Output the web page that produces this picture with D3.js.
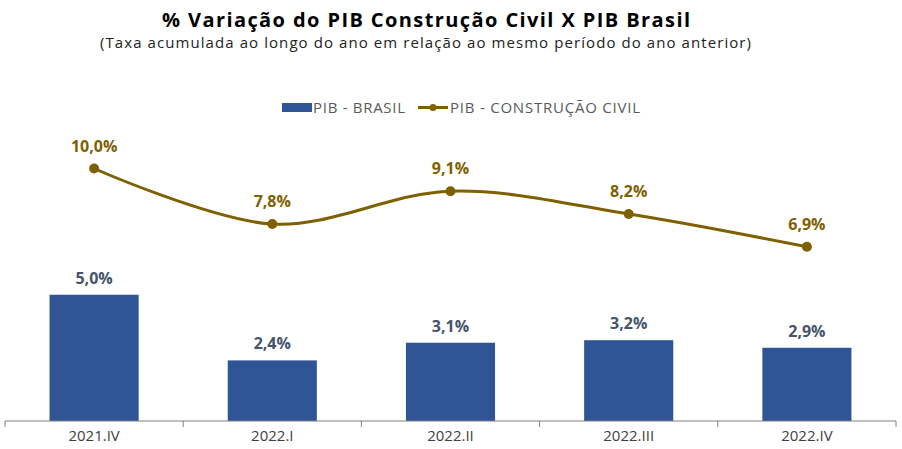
<!DOCTYPE html>
<html>
<head>
<meta charset="utf-8">
<script src="https://cdn.jsdelivr.net/npm/d3@7"></script>
<style>
  body { margin: 0; background: #fff; }
  svg { font-family: "Open Sans", "Noto Sans", sans-serif; }
</style>
</head>
<body>
<div id="chart"></div>
<script>
const categories = ["2021.IV", "2022.I", "2022.II", "2022.III", "2022.IV"];
const pibBrasil = [5.0, 2.4, 3.1, 3.2, 2.9];
const pibConstrucao = [10.0, 7.8, 9.1, 8.2, 6.9];

const W = 902, H = 449;
const margin = { top: 0, right: 6, bottom: 28, left: 5 };

const svg = d3.select("#chart").append("svg")
    .attr("width", W)
    .attr("height", H);

const fmt = v => v.toFixed(1).replace(".", ",") + "%";

// Scales
const x = d3.scaleBand()
    .domain(categories)
    .range([margin.left, W - margin.right])
    .paddingInner(0.5)
    .paddingOuter(0.25);

const y = d3.scaleLinear()
    .domain([0, 10])
    .range([H - margin.bottom, H - margin.bottom - 252.5]);

// Title (stretched to the width of the original wider font)
svg.append("text")
    .attr("x", 162).attr("y", 27)
    .attr("font-size", 20).attr("font-weight", 700)
    .attr("fill", "#000")
    .attr("textLength", 528).attr("lengthAdjust", "spacing")
    .text("% Variação do PIB Construção Civil X PIB Brasil");

svg.append("text")
    .attr("x", 100).attr("y", 48)
    .attr("font-size", 15)
    .attr("fill", "#222")
    .attr("textLength", 651).attr("lengthAdjust", "spacing")
    .text("(Taxa acumulada ao longo do ano em relação ao mesmo período do ano anterior)");

// Legend
const leg = svg.append("g").attr("font-size", 15);
leg.append("rect").attr("x", 282).attr("y", 103).attr("width", 30).attr("height", 9).attr("fill", "#2F5597");
leg.append("text").attr("x", 313).attr("y", 113).attr("fill", "#595959")
    .attr("textLength", 92).attr("lengthAdjust", "spacing").text("PIB - BRASIL");
leg.append("line").attr("x1", 418).attr("x2", 448).attr("y1", 107.5).attr("y2", 107.5)
    .attr("stroke", "#7F6000").attr("stroke-width", 3);
leg.append("circle").attr("cx", 433).attr("cy", 107.5).attr("r", 3.5).attr("fill", "#7F6000");
leg.append("text").attr("x", 450).attr("y", 113).attr("fill", "#595959")
    .attr("textLength", 190).attr("lengthAdjust", "spacing").text("PIB - CONSTRUÇÃO CIVIL");

// Bars
svg.selectAll(".bar")
    .data(pibBrasil)
    .enter()
    .append("rect")
    .attr("class", "bar")
    .attr("x", (d, i) => x(categories[i]))
    .attr("y", d => y(d))
    .attr("width", x.bandwidth())
    .attr("height", d => y(0) - y(d))
    .attr("fill", "#2F5597");

svg.selectAll(".bar-label")
    .data(pibBrasil)
    .enter()
    .append("text")
    .attr("class", "bar-label")
    .attr("x", (d, i) => x(categories[i]) + x.bandwidth() / 2)
    .attr("y", d => y(d) - 11)
    .attr("text-anchor", "middle")
    .attr("font-size", 16).attr("font-weight", 700)
    .attr("fill", "#44546A")
    .text(fmt);

// X axis
const axis = svg.append("g")
    .attr("transform", `translate(0, ${y(0)})`)
    .call(d3.axisBottom(x).tickSize(0).tickPadding(9));
axis.select(".domain").attr("stroke", "#7f7f7f").attr("d", `M${margin.left},0H${W - margin.right}`);
axis.selectAll("text").attr("font-size", 15).attr("fill", "#404040")
    .attr("font-family", "\"Open Sans\", \"Noto Sans\", sans-serif");

// Tick marks between categories
const bounds = d3.range(categories.length + 1).map(i => margin.left + i * (W - margin.left - margin.right) / categories.length);
axis.selectAll(".sep")
    .data(bounds)
    .enter()
    .append("line")
    .attr("class", "sep")
    .attr("x1", d => d).attr("x2", d => d)
    .attr("y1", 0).attr("y2", 6)
    .attr("stroke", "#7f7f7f");

// Line series
const cx = (d, i) => x(categories[i]) + x.bandwidth() / 2;
const line = d3.line()
    .x(cx)
    .y(d => y(d))
    .curve(d3.curveCatmullRom.alpha(0.5));

svg.append("path")
    .datum(pibConstrucao)
    .attr("d", line)
    .attr("fill", "none")
    .attr("stroke", "#7F6000")
    .attr("stroke-width", 3);

svg.selectAll(".dot")
    .data(pibConstrucao)
    .enter()
    .append("circle")
    .attr("class", "dot")
    .attr("cx", cx)
    .attr("cy", d => y(d))
    .attr("r", 5)
    .attr("fill", "#7F6000");

svg.selectAll(".line-label")
    .data(pibConstrucao)
    .enter()
    .append("text")
    .attr("class", "line-label")
    .attr("x", cx)
    .attr("y", d => y(d) - 17)
    .attr("text-anchor", "middle")
    .attr("font-size", 16).attr("font-weight", 700)
    .attr("fill", "#7F6000")
    .text(fmt);
</script>
</body>
</html>
